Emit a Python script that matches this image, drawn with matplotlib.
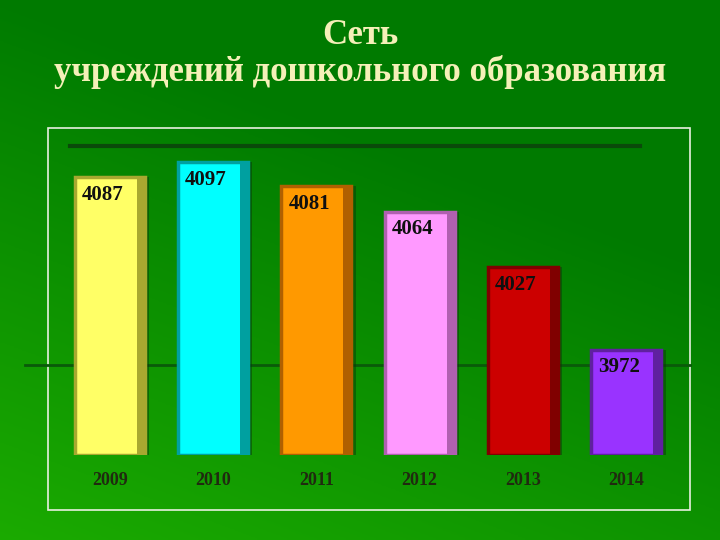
import matplotlib
matplotlib.use("Agg")
import matplotlib.pyplot as plt
import numpy as np
from matplotlib.patches import Rectangle

years = ["2009", "2010", "2011", "2012", "2013", "2014"]
values = [4087, 4097, 4081, 4064, 4027, 3972]
colors = ["#ffff66", "#00ffff", "#ff9900", "#ff99ff", "#cc0000", "#9933ff"]
dark = ["#a8a830", "#00a0a0", "#b06000", "#b060b0", "#800000", "#6020a0"]

fig = plt.figure(figsize=(7.2, 5.4), dpi=100)
bg = fig.add_axes([0, 0, 1, 1])
gx, gy = np.meshgrid(np.linspace(0, 1, 200), np.linspace(0, 1, 200))
t = np.clip(gy * 0.7 + (1 - gx) * 0.35 - 0.35, 0, 1)
c1 = np.array([0.0, 0.48, 0.0]); c2 = np.array([0.15, 0.75, 0.0])
img = c1 + (c2 - c1) * t[..., None]
bg.imshow(img, extent=[0, 1, 0, 1], aspect="auto", origin="upper")
bg.axis("off")
bg.add_patch(Rectangle((48/720, 30/540), 642/720, 382/540, fill=False, ec="#e8f0e0", lw=1.2, transform=bg.transAxes))
bg.plot([70/720, 640/720], [1-146/540]*2, color="#0a4a0a", lw=3, transform=bg.transAxes)
bg.plot([25/720, 690/720], [1-365/540]*2, color="#0a5a0a", lw=2, transform=bg.transAxes)
bg.set_xlim(0, 1); bg.set_ylim(0, 1)

fig.text(0.5, 1-35/540, "Сеть", ha="center", va="center", fontsize=25, fontweight="bold",
         family="Liberation Serif", color="#f5f0b8")
fig.text(0.5, 1-72/540, "учреждений дошкольного образования", ha="center", va="center",
         fontsize=25, fontweight="bold", family="Liberation Serif", color="#f5f0b8")

ax = fig.add_axes([58/720, 1-455/540, 620/720, 315/540])
ax.patch.set_alpha(0)
ymin, ymax = 3902, 4112
x = np.arange(len(values))
w = 0.68
ax.bar(x + 0.04, np.array(values) - ymin, w, bottom=ymin, color="#0a3a0a", alpha=0.5, zorder=1)
ax.bar(x, np.array(values) - ymin, w, bottom=ymin, color=colors, edgecolor=dark, lw=2.5, zorder=2)
ax.bar(x + w/2 - 0.04, np.array(values) - ymin, 0.08, bottom=ymin, color=dark, zorder=3)
for xi, v in zip(x, values):
    ax.text(xi - w/2 + 0.07, v - 5, str(v), ha="left", va="top", fontsize=15, fontweight="bold",
            family="Liberation Serif", color="#101010", zorder=4)
    ax.text(xi, ymin - 17, years[xi], ha="center", va="center", fontsize=13, fontweight="bold",
            family="Liberation Serif", color="#202a10", clip_on=False)
ax.set_xlim(-0.5, 5.5)
ax.set_ylim(ymin, ymax)
ax.axis("off")
fig.savefig("out.png", dpi=100)
